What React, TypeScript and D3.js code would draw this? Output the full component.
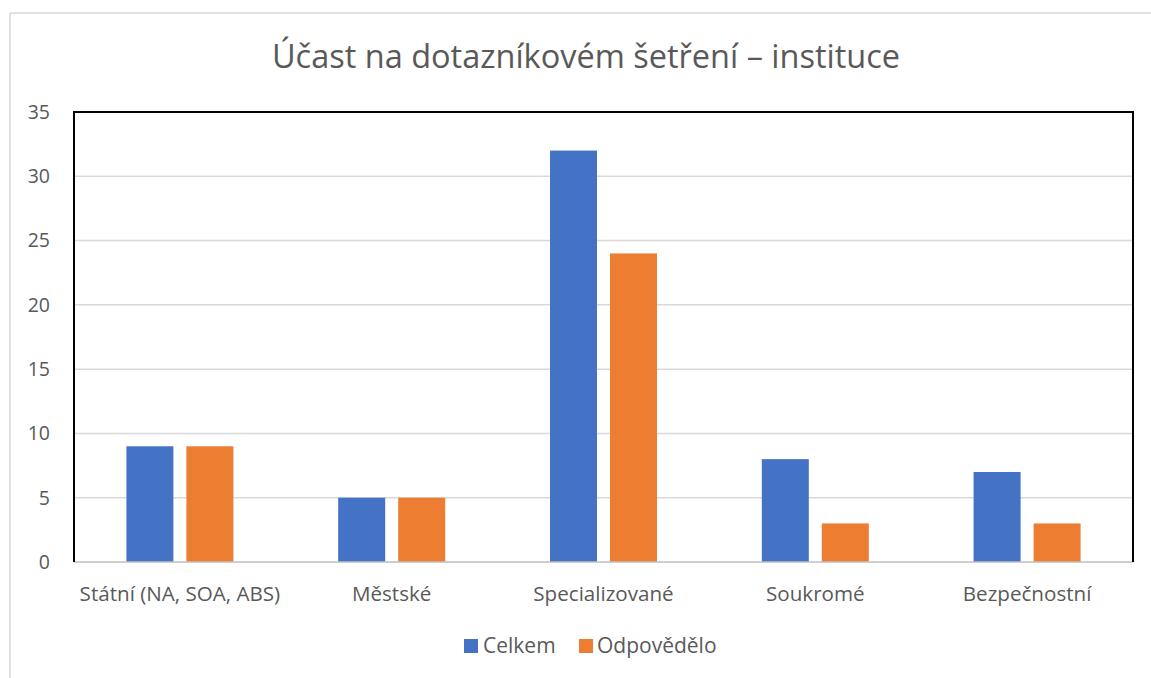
import React from "react";
import * as d3 from "d3";

const categories = ["Státní (NA, SOA, ABS)", "Městské", "Specializované", "Soukromé", "Bezpečnostní"];
const celkem = [9, 5, 32, 8, 7];
const odpovedelo = [9, 5, 24, 3, 3];
const seriesNames = ["Celkem", "Odpovědělo"];
const seriesColors = ["#4472c4", "#ed7d31"];
const yTicks = [0, 5, 10, 15, 20, 25, 30, 35];
const title = "Účast na dotazníkovém šetření – instituce";

const W = 1151;
const H = 678;
const plot = { left: 74, top: 112, right: 1133, bottom: 562 };
const FONT = "'Open Sans', sans-serif";
const TXT = "#595959";

export default function App() {
  const x = d3.scaleBand<string>().domain(categories).range([plot.left, plot.right]);
  const y = d3.scaleLinear().domain([0, 35]).range([plot.bottom, plot.top]);
  const barW = 47;
  const innerGap = 13;
  const series = [celkem, odpovedelo];

  return (
    <svg width={W} height={H} style={{ position: "absolute", left: 0, top: 0, background: "#fff" }}>
      <rect x={0} y={0} width={W} height={H} fill="#fff" />
      {/* chart outer border (clipped at right/bottom) */}
      <line x1={10} y1={13} x2={W} y2={13} stroke="#d9d9d9" strokeWidth={1.5} />
      <line x1={10} y1={13} x2={10} y2={H} stroke="#d9d9d9" strokeWidth={1.5} />

      <text x={586} y={68} textAnchor="middle" fontFamily={FONT} fontSize={32.5} fill={TXT}>
        {title}
      </text>

      {/* gridlines */}
      {yTicks.filter((t) => t > 0 && t < 35).map((t) => (
        <line key={t} x1={plot.left} x2={plot.right} y1={y(t)} y2={y(t)} stroke="#d9d9d9" strokeWidth={1.5} />
      ))}

      {/* bars */}
      {categories.map((c, i) => {
        const cx = (x(c) as number) + x.bandwidth() / 2;
        return series.map((s, j) => {
          const bx = j === 0 ? cx - innerGap / 2 - barW : cx + innerGap / 2;
          return (
            <rect
              key={c + j}
              x={bx}
              y={y(s[i])}
              width={barW}
              height={y(0) - y(s[i])}
              fill={seriesColors[j]}
            />
          );
        });
      })}

      {/* x axis line */}
      <line x1={plot.left} x2={plot.right} y1={y(0)} y2={y(0)} stroke="#bfbfbf" strokeWidth={1.5} />
      {/* plot border: left, top, right black */}
      <polyline
        points={`${plot.left},${plot.bottom} ${plot.left},${plot.top} ${plot.right},${plot.top} ${plot.right},${plot.bottom}`}
        fill="none"
        stroke="#000"
        strokeWidth={2}
      />

      {/* y tick labels */}
      {yTicks.map((t) => (
        <text key={t} x={50} y={y(t)} dy="0.35em" textAnchor="end" fontFamily={FONT} fontSize={19.5} fill={TXT}>
          {t}
        </text>
      ))}

      {/* x labels */}
      {categories.map((c) => (
        <text
          key={c}
          x={(x(c) as number) + x.bandwidth() / 2}
          y={594}
          dy="0.35em"
          textAnchor="middle"
          fontFamily={FONT}
          fontSize={20.6}
          fill={TXT}
        >
          {c}
        </text>
      ))}

      {/* legend */}
      <g>
        <rect x={464} y={639} width={14} height={14} fill={seriesColors[0]} />
        <text x={483} y={646} dy="0.35em" fontFamily={FONT} fontSize={21} fill={TXT}>
          {seriesNames[0]}
        </text>
        <rect x={579} y={639} width={14} height={14} fill={seriesColors[1]} />
        <text x={597} y={646} dy="0.35em" fontFamily={FONT} fontSize={21} fill={TXT}>
          {seriesNames[1]}
        </text>
      </g>
    </svg>
  );
}
